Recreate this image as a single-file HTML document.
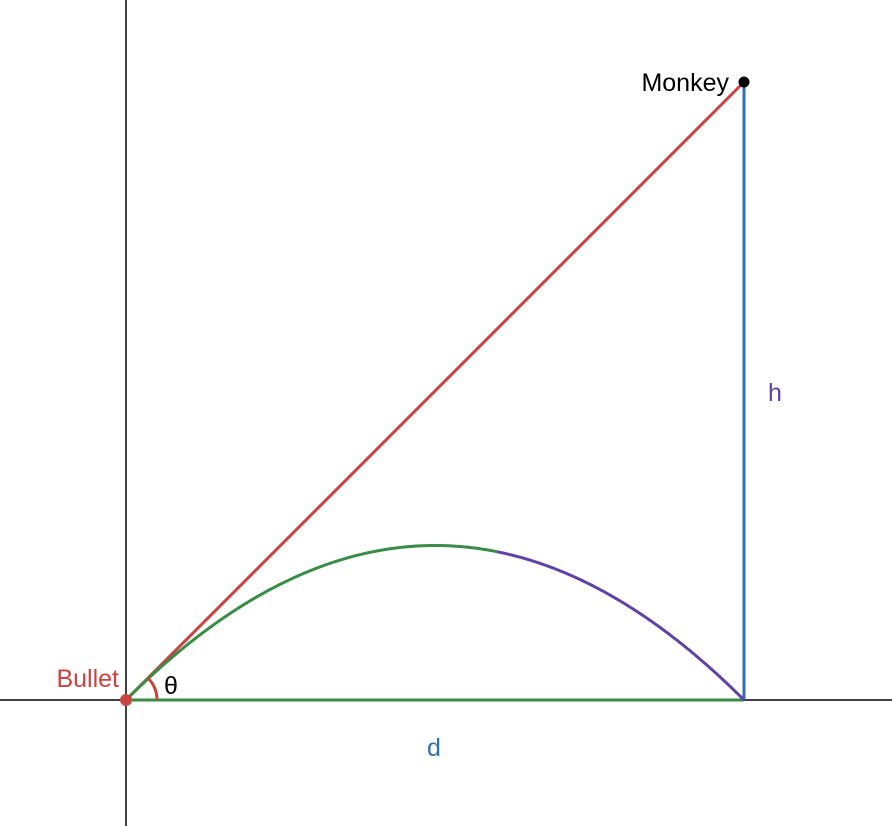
<!DOCTYPE html>
<html><head><meta charset="utf-8"><style>
body{margin:0;background:#fff}
svg{display:block;font-family:"Liberation Sans",Arial,sans-serif}
</style></head><body>
<svg id="c" width="892" height="826" viewBox="0 0 892 826"></svg>
<script>
const distance = [10];
const heights = [10];
const peakHeight = [2.5];
const splitX = [6.0];
const labels = ["Monkey","Bullet","θ","h","d"];

const ox=126, oy=700, sc=61.8;
const X=v=>ox+v*sc, Y=v=>oy-v*sc;
const svg=document.getElementById('c');
const NS='http://www.w3.org/2000/svg';
function mk(tag,attrs,name){const e=document.createElementNS(NS,tag);for(const k in attrs)e.setAttribute(k,attrs[k]);


svg.appendChild(e);return e;}
const d=distance[0], h=heights[0], p=peakHeight[0], s=splitX[0];
mk('line',{x1:0,y1:oy,x2:892,y2:oy,stroke:'#000','stroke-width':1.5},'x-axis');
mk('line',{x1:ox,y1:0,x2:ox,y2:826,stroke:'#000','stroke-width':1.5},'y-axis');
mk('line',{x1:X(0),y1:Y(0),x2:X(d),y2:Y(0),stroke:'#388c46','stroke-width':3},'distance-line');
mk('line',{x1:X(d),y1:Y(0),x2:X(d),y2:Y(h),stroke:'#2d70b3','stroke-width':3},'height-line');
mk('line',{x1:X(0),y1:Y(0),x2:X(d),y2:Y(h),stroke:'#c74440','stroke-width':3},'aim-line');
const f=x=>4*p*x*(d-x)/(d*d);
function path(a,b){let s='';for(let i=0;i<=100;i++){const x=a+(b-a)*i/100;s+=(i?'L':'M')+X(x).toFixed(2)+' '+Y(f(x)).toFixed(2);}return s;}
mk('path',{d:path(0,s),fill:'none',stroke:'#388c46','stroke-width':3},'trajectory-rising');
mk('path',{d:path(s,d),fill:'none',stroke:'#6042a6','stroke-width':3},'trajectory-falling');
const ang=Math.atan2(h,d), r=31;
mk('path',{d:`M${ox+r} ${oy} A${r} ${r} 0 0 0 ${ox+r*Math.cos(ang)} ${oy-r*Math.sin(ang)}`,fill:'none',stroke:'#c74440','stroke-width':3},'angle-arc');
mk('circle',{cx:X(0),cy:Y(0),r:6,fill:'#c74440'},'bullet-point');
mk('circle',{cx:X(d),cy:Y(h),r:5.5,fill:'#000'},'monkey-point');
function txt(x,y,t,col,name,anchor){const e=mk('text',{x:x,y:y,fill:col,'font-size':25,'text-anchor':anchor||'start'},name);e.textContent=t;}
txt(X(d)-15,Y(h)+9,labels[0],'#000','monkey-label','end');
txt(119,687,labels[1],'#c74440','bullet-label','end');
txt(164,694,labels[2],'#000','theta-label');
txt(768,401,labels[3],'#6042a6','h-label');
txt(427,756,labels[4],'#2d70b3','d-label');
</script>
</body></html>
